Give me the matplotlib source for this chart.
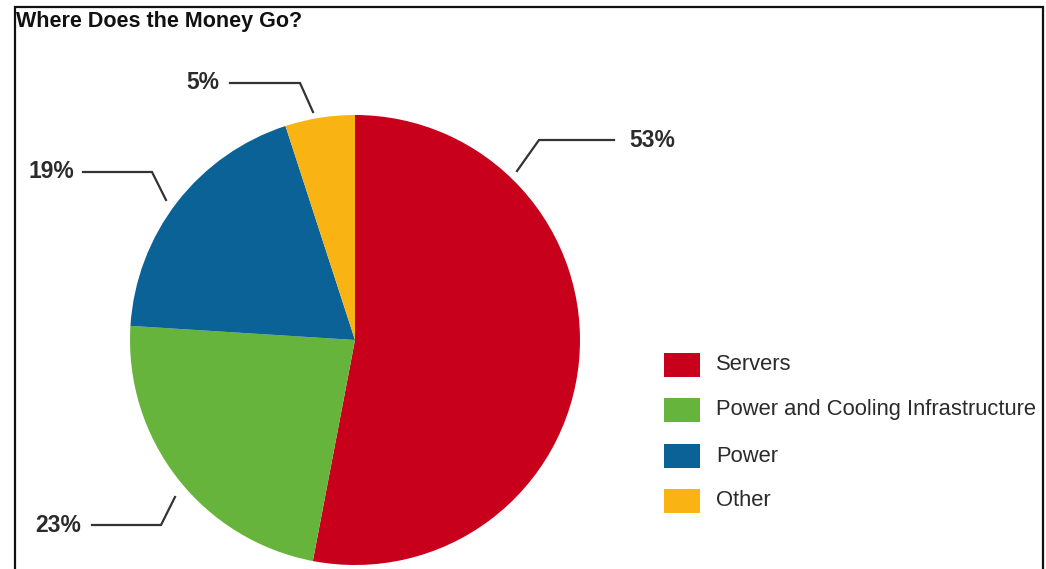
import matplotlib
matplotlib.use("Agg")
import matplotlib.pyplot as plt

categories = ["Servers", "Power and Cooling Infrastructure", "Power", "Other"]
values = [53, 23, 19, 5]
pct_labels = ["53%", "23%", "19%", "5%"]
colors = ["#C8001C", "#67B43C", "#0A6296", "#F9B413"]

W, H = 1046, 569
fig = plt.figure(figsize=(W / 100, H / 100), dpi=100)
ax = fig.add_axes([0, 0, 1, 1])
ax.set_xlim(0, W)
ax.set_ylim(0, H)
ax.set_aspect("equal")
ax.axis("off")

def Y(y):
    return H - y

font = ["Liberation Sans", "DejaVu Sans"]
txt_col = "#2b2b2b"

# frame
ax.plot([15, 15, 1043, 1043], [Y(569), Y(7), Y(7), Y(569)], color="#111111", lw=1.6,
        solid_joinstyle="miter")

ax.text(16, Y(21), "Where Does the Money Go?", fontsize=15.5, fontweight="bold",
        family=font, color="#111111", va="center", ha="left")

cx, cy, r = 355, 340, 225
ax.pie(values, colors=colors, startangle=90, counterclock=False,
       center=(cx, Y(cy)), radius=r, frame=True,
       wedgeprops=dict(linewidth=0))
ax.set_xlim(0, W)
ax.set_ylim(0, H)
ax.axis("off")

# leader lines and percent labels (label pos, line path) per category
leaders = {
    "53%": dict(text=(629, 140), ha="left", path=[(517, 171), (539, 140), (614, 140)]),
    "23%": dict(text=(81, 525), ha="right", path=[(92, 525), (161, 525), (175, 497)]),
    "19%": dict(text=(74, 171), ha="right", path=[(83, 172), (152, 172), (166, 200)]),
    "5%": dict(text=(219, 82), ha="right", path=[(230, 83), (300, 83), (313, 112)]),
}
for lab in pct_labels:
    d = leaders[lab]
    xs = [p[0] for p in d["path"]]
    ys = [Y(p[1]) for p in d["path"]]
    ax.plot(xs, ys, color="#333333", lw=1.6, solid_joinstyle="miter")
    ax.text(d["text"][0], Y(d["text"][1]), lab, fontsize=16.5, fontweight="bold",
            family=font, color=txt_col, ha=d["ha"], va="center")

# legend
leg_y = [365, 410, 456, 501]
for cat, col, yy in zip(categories, colors, leg_y):
    ax.add_patch(plt.Rectangle((664, Y(yy + 12)), 36, 24, color=col, lw=0))
    ax.text(716, Y(yy), cat, fontsize=15.8, family=font, color=txt_col,
            ha="left", va="center")

fig.savefig("out.png", dpi=100)
